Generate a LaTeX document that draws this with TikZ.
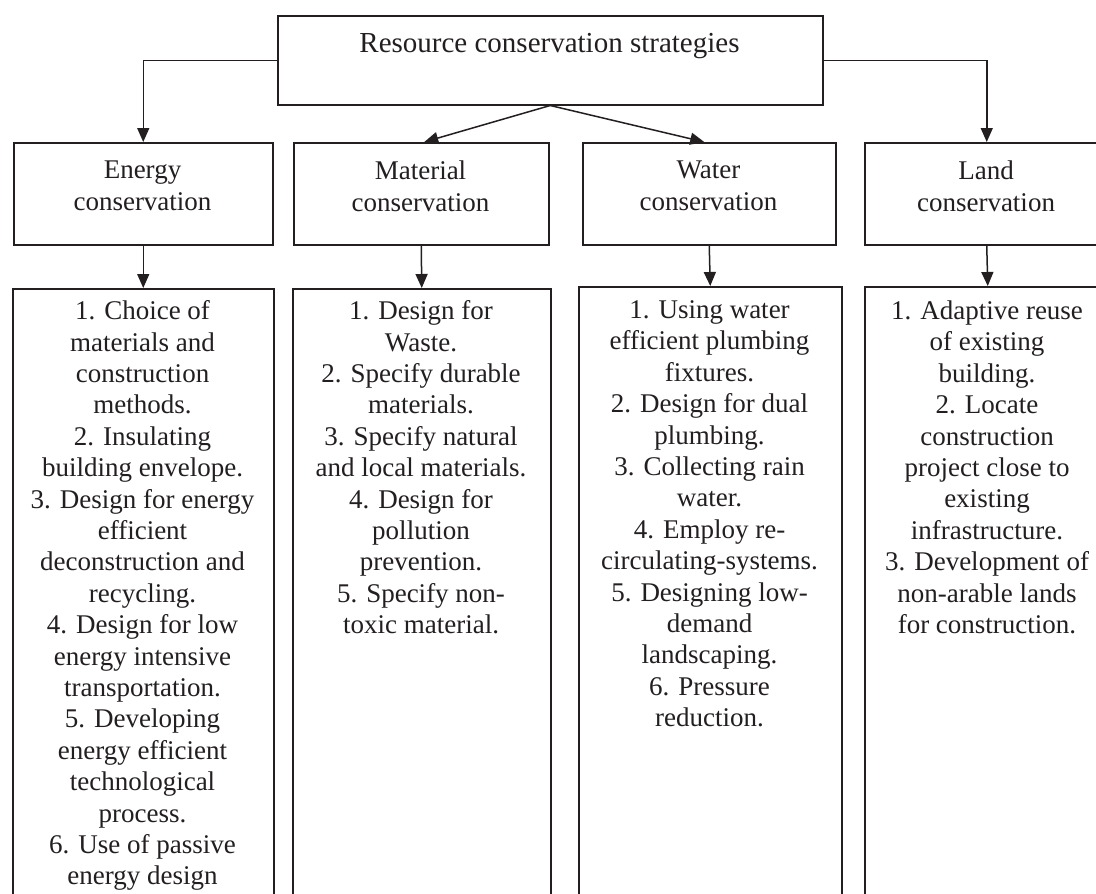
\documentclass[tikz,border=0pt]{standalone}
\usepackage{fontspec}
\setmainfont{Liberation Serif}
\usetikzlibrary{arrows.meta}
\definecolor{ink}{HTML}{231F20}
\tikzset{
  box/.style={draw=ink, line width=1.5pt, rectangle, inner sep=0pt, anchor=north west},
  txt/.style={text=ink, align=center, inner sep=0pt, font=\fontsize{27pt}{31.4pt}\selectfont},
  arr/.style={draw=ink, line width=1.5pt, -{Triangle[length=14pt,width=12pt]}}
}
\begin{document}
\begin{tikzpicture}[x=1pt,y=-1pt]
\useasboundingbox (0,0) rectangle (1096,894);
\clip (0,0) rectangle (1096,894);
\fill[white] (0,0) rectangle (1096,894);
% boxes
\node[box, minimum width=545pt, minimum height=89pt] (top) at (277,15) {};
\node[box, minimum width=259pt, minimum height=102pt] (ene) at (13,142) {};
\node[box, minimum width=255pt, minimum height=102pt] (mat) at (293,142) {};
\node[box, minimum width=253pt, minimum height=102pt] (wat) at (582,142) {};
\node[box, minimum width=244pt, minimum height=102pt] (land) at (864,142) {};
\node[box, minimum width=261pt, minimum height=700pt] (eneL) at (12,288) {};
\node[box, minimum width=258pt, minimum height=700pt] (matL) at (292,288) {};
\node[box, minimum width=263pt, minimum height=700pt] (watL) at (578,286) {};
\node[box, minimum width=246pt, minimum height=700pt] (landL) at (864,286) {};
% texts
\node[txt, anchor=base, font=\fontsize{29pt}{34pt}\selectfont] (topT) at (549.5,52) {Resource conservation strategies};
\node[txt, anchor=north] (eneT) at (142.5,161) {Energy\\conservation};
\node[txt, anchor=north] (matT) at (420.5,161) {Material\\conservation};
\node[txt, anchor=north] (watT) at (708.5,161) {Water\\conservation};
\node[txt, anchor=north] (landT) at (986,161) {Land\\conservation};
\node[txt, anchor=north] (eneLT) at (142.5,300.5) {1. Choice of\\materials and\\construction\\methods.\\2. Insulating\\building envelope.\\3. Design for energy\\efficient\\deconstruction and\\recycling.\\4. Design for low\\energy intensive\\transportation.\\5. Developing\\energy efficient\\technological\\process.\\6. Use of passive\\energy design};
\node[txt, anchor=north] (matLT) at (421,300.5) {1. Design for\\Waste.\\2. Specify durable\\materials.\\3. Specify natural\\and local materials.\\4. Design for\\pollution\\prevention.\\5. Specify non-\\toxic material.};
\node[txt, anchor=north] (watLT) at (709.5,300.5) {1. Using water\\efficient plumbing\\fixtures.\\2. Design for dual\\plumbing.\\3. Collecting rain\\water.\\4. Employ re-\\circulating-systems.\\5. Designing low-\\demand\\landscaping.\\6. Pressure\\reduction.};
\node[txt, anchor=north] (landLT) at (987,300.5) {1. Adaptive reuse\\of existing\\building.\\2. Locate\\construction\\project close to\\existing\\infrastructure.\\3. Development of\\non-arable lands\\for construction.};
% connectors
\draw[arr] (top.west) -| (ene.north);
\draw[arr] (top.east) -| (land.north);
\draw[arr] (top.south) -- ([xshift=3pt]mat.north);
\draw[arr] (top.south) -- ([xshift=-5pt]wat.north);
\draw[arr] (ene.south) -- (eneL.north);
\draw[arr] (mat.south) -- (matL.north);
\draw[arr] (wat.south) -- (watL.north);
\draw[arr] (land.south) -- (landL.north);
\end{tikzpicture}
\end{document}
